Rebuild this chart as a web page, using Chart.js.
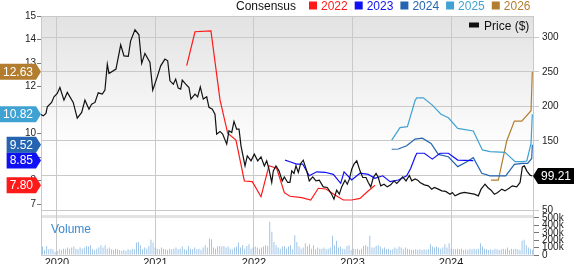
<!DOCTYPE html>
<html>
<head>
<meta charset="utf-8">
<script src="https://cdn.jsdelivr.net/npm/chart.js@4.4.1/dist/chart.umd.min.js"></script>
<style>
  html, body { margin: 0; padding: 0; background: #fff; }
  #wrap { width: 574px; height: 264px; }
</style>
</head>
<body>
<div id="wrap"><canvas id="myChart" width="574" height="264"></canvas></div>
<script>
// [year, price $]
const price = [
  [2019.827,188.9],[2019.861,186.4],[2019.888,189.9],[2019.902,199.4],[2019.946,205.8],[2019.970,213.9],
  [2020.003,218.9],[2020.030,227.5],[2020.071,209.1],[2020.105,220.3],[2020.165,205.8],[2020.206,183.1],
  [2020.251,191.3],[2020.284,209.1],[2020.325,196.1],[2020.352,203.4],[2020.386,205.8],[2020.419,219.7],
  [2020.460,217.8],[2020.487,223.6],[2020.511,261.3],[2020.528,247.8],[2020.599,254.1],[2020.647,289.3],
  [2020.680,273.3],[2020.724,272.5],[2020.748,295.1],[2020.792,311.0],[2020.832,303.8],[2020.860,262.3],
  [2020.893,276.8],[2020.944,263.8],[2020.972,223.6],[2021.018,242.9],[2021.053,258.8],[2021.096,268.6],
  [2021.124,266.1],[2021.147,237.1],[2021.181,232.3],[2021.205,239.6],[2021.231,226.5],[2021.256,225.1],
  [2021.272,238.1],[2021.307,232.3],[2021.340,227.5],[2021.360,210.6],[2021.401,217.8],[2021.428,213.9],
  [2021.455,228.4],[2021.485,210.6],[2021.520,213.9],[2021.543,198.6],[2021.577,196.1],[2021.604,188.9],
  [2021.621,159.9],[2021.655,163.8],[2021.682,159.9],[2021.723,145.4],[2021.746,164.7],[2021.774,162.3],
  [2021.797,178.3],[2021.824,167.1],[2021.848,167.1],[2021.868,142.9],[2021.909,113.9],[2021.932,128.4],
  [2021.970,121.2],[2022.003,130.9],[2022.038,121.2],[2022.071,127.0],[2022.105,113.9],[2022.129,121.2],
  [2022.152,109.2],[2022.180,89.9],[2022.196,106.7],[2022.223,113.9],[2022.254,106.7],[2022.287,92.2],
  [2022.308,98.0],[2022.342,89.9],[2022.365,89.9],[2022.383,106.7],[2022.406,102.9],[2022.426,113.9],
  [2022.450,104.4],[2022.474,117.4],[2022.500,122.2],[2022.535,106.7],[2022.561,92.2],[2022.596,98.0],
  [2022.629,92.2],[2022.663,93.2],[2022.703,83.5],[2022.744,82.6],[2022.788,72.9],[2022.812,65.7],
  [2022.839,78.7],[2022.866,72.9],[2022.890,83.5],[2022.924,93.2],[2022.947,87.4],[2022.968,94.7],
  [2022.992,109.2],[2023.015,116.4],[2023.043,121.2],[2023.076,106.7],[2023.104,97.1],[2023.137,97.1],
  [2023.160,89.9],[2023.185,83.5],[2023.211,97.1],[2023.239,102.9],[2023.262,97.1],[2023.286,85.0],
  [2023.320,87.4],[2023.353,83.5],[2023.388,86.4],[2023.421,92.2],[2023.449,88.4],[2023.482,93.2],
  [2023.509,98.0],[2023.543,92.2],[2023.577,100.0],[2023.601,92.2],[2023.635,95.0],[2023.662,93.2],
  [2023.685,89.9],[2023.729,86.4],[2023.770,85.0],[2023.804,80.2],[2023.830,82.6],[2023.871,80.2],
  [2023.906,77.7],[2023.946,76.9],[2023.990,72.9],[2024.013,75.4],[2024.041,70.5],[2024.091,74.0],
  [2024.135,75.4],[2024.193,74.0],[2024.237,72.9],[2024.277,70.5],[2024.305,80.2],[2024.345,87.4],
  [2024.373,82.6],[2024.406,78.7],[2024.440,72.9],[2024.474,75.4],[2024.515,80.2],[2024.548,77.7],
  [2024.589,81.6],[2024.622,85.0],[2024.667,83.5],[2024.701,89.9],[2024.724,112.5],[2024.744,113.9],
  [2024.769,106.7],[2024.802,100.5],[2024.825,99.21]
];

// consensus EPS estimates, [year, eps]
const eps2022 = [
  [2021.317,12.89],[2021.401,14.33],[2021.563,14.37],[2021.655,11.43],[2021.733,10.01],[2021.817,9.72],
  [2021.902,7.98],[2021.983,7.95],[2022.071,7.31],[2022.152,8.63],[2022.230,8.52],[2022.308,7.48],
  [2022.365,7.33],[2022.484,7.27],[2022.576,7.17],[2022.653,7.67],[2022.731,7.64],[2022.822,7.38],
  [2022.907,7.17],[2022.992,7.17],[2023.076,7.24],[2023.150,7.52],[2023.228,7.80]
];
const eps2023 = [
  [2022.315,8.87],[2022.365,8.80],[2022.433,8.70],[2022.494,8.70],[2022.561,8.20],[2022.637,8.37],
  [2022.721,8.35],[2022.805,8.26],[2022.880,7.88],[2022.914,8.37],[2022.992,8.02],[2023.076,8.31],
  [2023.160,8.26],[2023.228,8.09],[2023.307,8.20],[2023.381,7.95],[2023.465,8.02],[2023.550,8.20],
  [2023.591,8.52],[2023.635,9.00],[2023.652,9.16],[2023.729,9.16],[2023.810,8.91],[2023.888,9.16],
  [2023.973,9.16],[2024.068,8.87],[2024.226,8.85]
];
const eps2024 = [
  [2023.398,9.33],[2023.465,9.34],[2023.550,9.48],[2023.635,9.76],[2023.709,9.80],[2023.797,9.58],
  [2023.871,9.11],[2023.973,9.01],[2024.068,8.59],[2024.160,8.80],[2024.226,8.97],[2024.312,8.31],
  [2024.396,8.20],[2024.555,8.20],[2024.643,8.69],[2024.724,8.73],[2024.778,8.73],[2024.819,8.94],
  [2024.825,9.52]
];
const eps2025 = [
  [2023.398,9.72],[2023.482,10.25],[2023.557,10.29],[2023.635,11.40],[2023.652,11.52],[2023.719,11.52],
  [2023.810,11.21],[2023.898,10.82],[2023.973,10.67],[2024.068,10.22],[2024.226,10.11],[2024.318,9.30],
  [2024.396,9.23],[2024.548,9.20],[2024.650,8.80],[2024.724,8.80],[2024.769,8.83],[2024.812,9.58],
  [2024.825,10.82]
];
const eps2026 = [
  [2024.406,8.02],[2024.480,8.02],[2024.565,9.68],[2024.643,10.53],[2024.718,10.53],[2024.812,10.97],
  [2024.825,12.63]
];

// weekly volume, thousands
const volumeK = [
  114,64,123,77,86,77,
  41,55,77,68,86,77,100,86, 100,114,86,77,100,86,100,123, 114,132,77,68,86,100,132,100,
  132,86,100,77,68,86,77,68, 55,68,55,77,68,86,77,168, 177,132,77,100,86,123,205,168,
  100,86,77,100,86,77,68,86, 77,86,100,77,86,114,77,68, 123,86,77,100,77,86,68,100,
  132,100,223,214,100,86,114,123, 114,123,100,114,86,77,100,114, 168,100,132,86,123,145,86,100,
  114,100,86,100,114,132,123,450, 314,177,132,100,86,114,123,86,
  114,132,77,268,177,114,86,100, 159,123,145,86,132,77,100,86, 86,100,77,86,100,259,132,191,
  100,114,86,77,123,132,68,86, 77,86,68,86,123,132,114,259, 100,100,123,132,114,86,100,77,
  86,68,77,100,86,114,100,77, 100,86,77,68,68,77,68,77, 68,77,68,77,145,114,100,114,
  100,86,100,145,100,159,86,77, 77,86,77,86,68,77,68,86, 77,86,77,86,159,114,86,77,
  68,77,68,86,77,68,77,86, 77,100,68,86,77,86,77,68, 191,205,132,100,86,68
];

const seriesYears = ['2022', '2023', '2024', '2025', '2026'];
const seriesColors = ['#ff1a1a', '#1010f5', '#2464b0', '#3fa2d2', '#b27d2e'];
const seriesData = [eps2022, eps2023, eps2024, eps2025, eps2026];

const epsTicks = [7, 8, 9, 10, 12, 13, 14, 15];
const priceTicks = [50, 100, 150, 200, 250, 300];
const volTicks = [0, 100, 200, 300, 400, 500];

const FONT = "'Liberation Sans', Arial, Helvetica, sans-serif";
Chart.defaults.font.family = FONT;
Chart.defaults.color = '#222';

const toXY = arr => arr.map(p => ({ x: p[0], y: p[1] }));
const fixTicks = vals => s => { s.ticks = vals.map(v => ({ value: v })); };

const datasets = [
  {
    label: 'Price ($)', data: toXY(price), xAxisID: 'x', yAxisID: 'yPrice',
    borderColor: '#111', borderWidth: 1.2, pointRadius: 0, tension: 0, order: 0
  }
];
seriesData.forEach((d, i) => {
  datasets.push({
    label: seriesYears[i], data: toXY(d), xAxisID: 'x', yAxisID: 'yEps',
    borderColor: seriesColors[i], borderWidth: 1.2, pointRadius: 0, tension: 0, order: 1
  });
});
datasets.push({
  type: 'bar', label: 'Volume', data: volumeK, xAxisID: 'xVol', yAxisID: 'yVol',
  backgroundColor: '#7db0df', barPercentage: 0.7, categoryPercentage: 1, order: 2
});

const GRID = '#c9c9c9';

const backdrop = {
  id: 'backdrop',
  beforeDraw(chart) {
    const { ctx, chartArea: a } = chart;
    const yp = chart.scales.yPrice;
    ctx.save();
    ctx.fillStyle = '#fff';
    ctx.fillRect(0, 0, chart.width, chart.height);
    const g = ctx.createLinearGradient(0, a.top, 0, yp.bottom);
    g.addColorStop(0, '#e2e2e2');
    g.addColorStop(0.7, '#ffffff');
    ctx.fillStyle = g;
    ctx.fillRect(a.left, a.top, a.right - a.left, yp.bottom - a.top);
    // band between price and volume panes
    const yv = chart.scales.yVol;
    const by = yv.getPixelForValue(540);
    ctx.fillStyle = '#e3e3e3';
    ctx.fillRect(a.left, by, a.right - a.left, 3);
    ctx.strokeStyle = GRID;
    ctx.lineWidth = 1;
    ctx.beginPath();
    ctx.moveTo(a.left, a.top + 0.5);
    ctx.lineTo(a.right, a.top + 0.5);
    ctx.stroke();
    ctx.restore();
  }
};

function tag(ctx, x, y, text, color, side) {
  ctx.font = '12px ' + FONT;
  const w = ctx.measureText(text).width + 6;
  const h = 16;
  ctx.fillStyle = color;
  ctx.beginPath();
  if (side === 'left') {
    ctx.moveTo(x, y);
    ctx.lineTo(x - 5, y - h / 2);
    ctx.lineTo(x - 5 - w, y - h / 2);
    ctx.lineTo(x - 5 - w, y + h / 2);
    ctx.lineTo(x - 5, y + h / 2);
  } else {
    ctx.moveTo(x, y);
    ctx.lineTo(x + 5, y - h / 2);
    ctx.lineTo(x + 5 + w, y - h / 2);
    ctx.lineTo(x + 5 + w, y + h / 2);
    ctx.lineTo(x + 5, y + h / 2);
  }
  ctx.closePath();
  ctx.fill();
  ctx.fillStyle = '#fff';
  ctx.textBaseline = 'middle';
  ctx.textAlign = 'left';
  ctx.fillText(text, side === 'left' ? x - 5 - w + 3 : x + 8, y + 0.5);
}

const overlay = {
  id: 'overlay',
  afterDraw(chart) {
    const { ctx, chartArea: a } = chart;
    const ye = chart.scales.yEps, yp = chart.scales.yPrice;
    ctx.save();
    // top legend
    ctx.font = '12px ' + FONT;
    ctx.textBaseline = 'alphabetic';
    ctx.textAlign = 'left';
    ctx.fillStyle = '#111';
    ctx.fillText('Consensus', 236, 9.5);
    let lx = 309;
    seriesYears.forEach((yr, i) => {
      ctx.fillStyle = seriesColors[i];
      ctx.fillRect(lx, 1.5, 8, 8);
      ctx.fillText(yr, lx + 12, 9.5);
      lx += 12 + ctx.measureText(yr).width + 7;
    });
    // price legend
    ctx.fillStyle = '#111';
    ctx.fillRect(469, 22.5, 10, 5);
    ctx.fillText('Price ($)', 484, 29.5);
    // volume label
    ctx.fillStyle = '#3b8ad0';
    ctx.fillText('Volume', 51, 233);
    // last-value tags
    seriesData.forEach((d, i) => {
      const v = d[d.length - 1][1];
      tag(ctx, a.left, ye.getPixelForValue(v), v.toFixed(2), seriesColors[i], 'left');
    });
    const lp = price[price.length - 1][1];
    tag(ctx, a.right, yp.getPixelForValue(lp), lp.toFixed(2), '#000', 'right');
    ctx.restore();
  }
};

new Chart(document.getElementById('myChart'), {
  type: 'line',
  data: { labels: volumeK.map((_, i) => i), datasets: datasets },
  plugins: [backdrop, overlay],
  options: {
    responsive: false,
    animation: false,
    devicePixelRatio: 1,
    layout: { padding: { top: 16, left: 0, right: 0, bottom: 0 } },
    plugins: { legend: { display: false }, tooltip: { enabled: false } },
    scales: {
      x: {
        type: 'linear', position: 'bottom', min: 2019.838, max: 2024.832,
        afterFit: s => { s.height = 9; },
        afterBuildTicks: fixTicks([2020, 2021, 2022, 2023, 2024]),
        grid: { color: GRID, drawTicks: false },
        border: { color: GRID },
        ticks: { padding: 1, autoSkip: false, maxRotation: 0,
                 font: { size: 11 }, callback: v => String(v) }
      },
      xVol: { type: 'category', display: false, offset: true },
      yEps: {
        type: 'linear', position: 'left', min: 4.83, max: 15,
        afterFit: s => { s.width = 41; },
        afterBuildTicks: fixTicks(epsTicks),
        grid: { drawOnChartArea: false, tickLength: 4, color: '#777' },
        border: { color: GRID },
        ticks: { padding: 1, autoSkip: false, font: { size: 10 } }
      },
      yPrice: {
        type: 'linear', position: 'right', stack: 'right', stackWeight: 194, min: 50, max: 331,
        afterFit: s => { s.width = 41; },
        afterBuildTicks: fixTicks(priceTicks),
        grid: { color: GRID, tickLength: 6 },
        border: { color: GRID },
        ticks: { padding: 3, autoSkip: false, font: { size: 10 } }
      },
      yVol: {
        type: 'linear', position: 'right', stack: 'right', stackWeight: 45, min: 0, max: 608,
        afterFit: s => { s.width = 41; },
        afterBuildTicks: fixTicks(volTicks),
        grid: { drawOnChartArea: false, tickLength: 6, color: '#777' },
        border: { color: GRID },
        ticks: { padding: 3, autoSkip: false, font: { size: 10 },
                 callback: v => v === 0 ? '0' : v + 'k' }
      }
    }
  }
});
</script>
</body>
</html>
